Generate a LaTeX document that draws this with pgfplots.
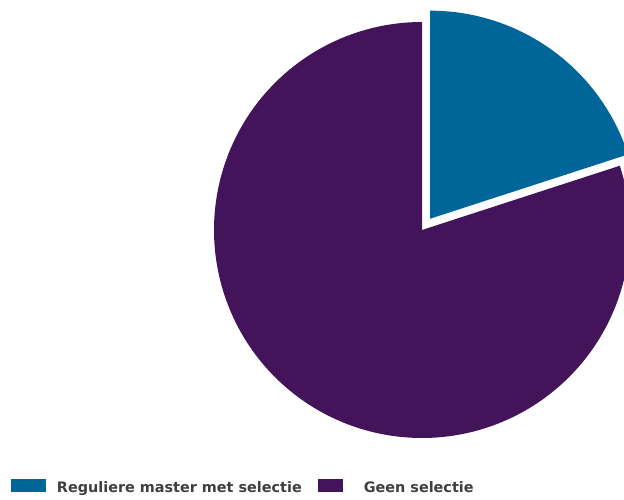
\documentclass[border=0pt]{standalone}
\usepackage{fontspec}
\setmainfont{DejaVu Sans}
\usepackage{pgfplots}
\usepackage{pgfplotstable}
\pgfplotsset{compat=1.18}
\definecolor{blueC}{HTML}{00669A}
\definecolor{purpC}{HTML}{43145A}
\definecolor{txtC}{HTML}{3F3F3F}
\pgfplotstableread{
share
20
80
}\piedata
\pgfplotstablegetelem{0}{share}\of\piedata \let\valA\pgfplotsretval
\pgfplotstablegetelem{1}{share}\of\piedata \let\valB\pgfplotsretval
\pgfmathsetmacro\angA{90-3.6*\valA}
\pgfmathsetmacro\angB{\angA-3.6*\valB}
\pgfmathsetmacro\angMid{(90+\angA)/2}
\pgfmathsetmacro\cxA{422+14*cos(\angMid)}
\pgfmathsetmacro\cyA{270+14*sin(\angMid)}
\begin{document}
\begin{tikzpicture}
\useasboundingbox (0,0) rectangle (624pt,500pt);
\clip (0,0) rectangle (624pt,500pt);
\begin{axis}[
  at={(0,0)}, anchor=south west, scale only axis,
  width=624pt, height=500pt,
  xmin=0, xmax=624, ymin=0, ymax=500,
  hide axis, clip=false,
  legend columns=2,
  legend style={at={(axis cs:11,13.5)}, anchor=west, draw=none, fill=none,
    inner sep=0pt, outer sep=0pt,
    font=\bfseries\fontsize{14.4}{16}\selectfont, text=txtC,
    nodes={inner sep=0pt},
    /tikz/every odd column/.append style={column sep=11pt},
    /tikz/every even column/.append style={column sep=16pt}},
]
\addplot[fill=blueC, draw=none, domain=\angA:90, samples=90,
  legend image code/.code={\fill[blueC] (0pt,-5pt) rectangle (35pt,8pt);}]
  ({\cxA+208*cos(x)},{\cyA+208*sin(x)}) -- (axis cs:\cxA,\cyA) -- cycle;
\addlegendentry{Reguliere master met selectie}
\addplot[fill=purpC, draw=none, domain=\angB:\angA, samples=300,
  legend image code/.code={\fill[purpC] (0pt,-5pt) rectangle (25pt,8pt); \path (35pt,0pt);}]
  ({422+208*cos(x)},{270+208*sin(x)}) -- (axis cs:422,270) -- cycle;
\addlegendentry{Geen selectie}
\end{axis}
\end{tikzpicture}
\end{document}
